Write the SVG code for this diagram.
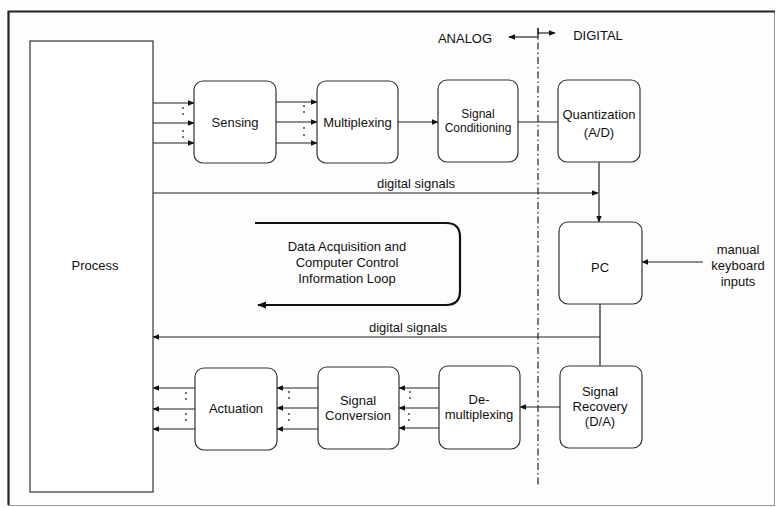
<svg xmlns="http://www.w3.org/2000/svg" width="776" height="507" viewBox="0 0 776 507">
<style>
.box{fill:#fff;stroke:#333;stroke-width:1.2}
.ln{fill:none;stroke:#222;stroke-width:1.2}
.arr{fill:none;stroke:#222;stroke-width:1.2;marker-end:url(#ah)}
.t{font-family:"Liberation Sans",Arial,sans-serif;font-size:13px;fill:#111;text-anchor:middle;dominant-baseline:central}
.s{font-size:12px}
.dot{fill:#333}
</style>
<defs>
<marker id="ah" viewBox="0 0 10 10" refX="9" refY="5" markerWidth="7" markerHeight="7" markerUnits="userSpaceOnUse" orient="auto">
<path d="M0,1 L10,5 L0,9 Z" fill="#111"/>
</marker>
<marker id="ahb" viewBox="0 0 10 10" refX="9" refY="5" markerWidth="9" markerHeight="9" markerUnits="userSpaceOnUse" orient="auto">
<path d="M0,1 L10,5 L0,9 Z" fill="#111"/>
</marker>
</defs>
<rect x="0" y="0" width="776" height="507" fill="#fdfdfd"/>
<rect x="8.5" y="11.5" width="766" height="494" fill="none" stroke="#999" stroke-width="1"/>
<path d="M8.5,505 V11.5 H775" fill="none" stroke="#222" stroke-width="2.2"/>

<g id="connectors">
<line x1="538" y1="28" x2="538" y2="485" stroke="#222" stroke-width="1.2" stroke-dasharray="7 3 1.5 3"/>
<line x1="538" y1="37" x2="509" y2="37" class="arr"/>
<line x1="538" y1="28" x2="538" y2="38" class="ln"/>
<line x1="538" y1="33" x2="555" y2="33" class="arr"/>
<line x1="153" y1="103" x2="194" y2="103" class="arr"/>
<line x1="153" y1="123" x2="194" y2="123" class="arr"/>
<line x1="153" y1="143" x2="194" y2="143" class="arr"/>
<circle class="dot" cx="183" cy="108" r="0.9"/><circle class="dot" cx="183" cy="114" r="0.9"/>
<circle class="dot" cx="183" cy="131" r="0.9"/><circle class="dot" cx="183" cy="137" r="0.9"/>
<line x1="276" y1="102" x2="317" y2="102" class="arr"/>
<line x1="276" y1="122" x2="317" y2="122" class="arr"/>
<line x1="276" y1="143" x2="317" y2="143" class="arr"/>
<circle class="dot" cx="304" cy="106" r="0.9"/><circle class="dot" cx="304" cy="112" r="0.9"/>
<circle class="dot" cx="304" cy="128" r="0.9"/><circle class="dot" cx="304" cy="135" r="0.9"/>
<line x1="398" y1="122" x2="438" y2="122" class="arr"/>
<line x1="518" y1="122" x2="558" y2="122" class="ln"/>
<line x1="599" y1="162" x2="599" y2="222" class="arr"/>
<line x1="153" y1="193" x2="598" y2="193" class="arr"/>
<text class="t" x="416" y="183">digital signals</text>
<line x1="703" y1="262" x2="642" y2="262" class="arr"/>
<line x1="600" y1="304" x2="600" y2="366" class="ln"/>
<line x1="600" y1="337" x2="153" y2="337" class="arr"/>
<text class="t" x="408" y="327">digital signals</text>
<line x1="560" y1="407" x2="520" y2="407" class="arr"/>
<line x1="439" y1="388" x2="399" y2="388" class="arr"/>
<line x1="439" y1="408" x2="399" y2="408" class="arr"/>
<line x1="439" y1="428" x2="399" y2="428" class="arr"/>
<circle class="dot" cx="410" cy="392" r="0.9"/><circle class="dot" cx="410" cy="398" r="0.9"/>
<circle class="dot" cx="409" cy="414" r="0.9"/><circle class="dot" cx="409" cy="420" r="0.9"/>
<line x1="318" y1="388" x2="277" y2="388" class="arr"/>
<line x1="318" y1="408" x2="277" y2="408" class="arr"/>
<line x1="318" y1="429" x2="277" y2="429" class="arr"/>
<circle class="dot" cx="289" cy="392" r="0.9"/><circle class="dot" cx="289" cy="398" r="0.9"/>
<circle class="dot" cx="289" cy="414" r="0.9"/><circle class="dot" cx="289" cy="420" r="0.9"/>
<line x1="195" y1="388" x2="153" y2="388" class="arr"/>
<line x1="195" y1="409" x2="153" y2="409" class="arr"/>
<line x1="195" y1="429" x2="153" y2="429" class="arr"/>
<circle class="dot" cx="186" cy="393" r="0.9"/><circle class="dot" cx="186" cy="399" r="0.9"/>
<circle class="dot" cx="186" cy="414" r="0.9"/><circle class="dot" cx="186" cy="420" r="0.9"/>
<path d="M255,223 H446 Q460,223 460,237 V291 Q460,305 446,305 H258" fill="none" stroke="#111" stroke-width="2.2" marker-end="url(#ahb)"/>
</g>

<g id="labels">
<text class="t" x="465" y="38">ANALOG</text>
<text class="t" x="598" y="35">DIGITAL</text>
<text class="t" x="347" y="246">Data Acquisition and</text>
<text class="t" x="347" y="262">Computer Control</text>
<text class="t" x="347" y="278">Information Loop</text>
<text class="t" x="738" y="249">manual</text>
<text class="t" x="738" y="265">keyboard</text>
<text class="t" x="738" y="281">inputs</text>
</g>

<g id="process"><rect class="box" x="30" y="41" width="123" height="451"/><text class="t" x="95" y="265">Process</text></g>
<g id="sensing"><rect class="box" x="194" y="81" width="82" height="82" rx="9"/><text class="t" x="235" y="122">Sensing</text></g>
<g id="multiplexing"><rect class="box" x="317" y="81" width="81" height="82" rx="9"/><text class="t" x="357.5" y="122">Multiplexing</text></g>
<g id="conditioning"><rect class="box" x="438" y="80" width="80" height="82" rx="9"/><text class="t s" x="478" y="114">Signal</text><text class="t s" x="478" y="128">Conditioning</text></g>
<g id="quantization"><rect class="box" x="558" y="80" width="82" height="82" rx="9"/><text class="t" x="599" y="114">Quantization</text><text class="t" x="599" y="132">(A/D)</text></g>
<g id="pc"><rect class="box" x="559" y="222" width="83" height="82" rx="9"/><text class="t" x="600" y="267">PC</text></g>
<g id="recovery"><rect class="box" x="560" y="366" width="82" height="82" rx="9"/><text class="t" x="600" y="391">Signal</text><text class="t" x="600" y="406">Recovery</text><text class="t" x="600" y="421">(D/A)</text></g>
<g id="demultiplexing"><rect class="box" x="439" y="366" width="81" height="83" rx="9"/><text class="t" x="479" y="399">De-</text><text class="t" x="479" y="414">multiplexing</text></g>
<g id="conversion"><rect class="box" x="318" y="367" width="81" height="82" rx="9"/><text class="t" x="358" y="400">Signal</text><text class="t" x="358" y="415">Conversion</text></g>
<g id="actuation"><rect class="box" x="195" y="368" width="82" height="82" rx="9"/><text class="t" x="236" y="408">Actuation</text></g>
</svg>
